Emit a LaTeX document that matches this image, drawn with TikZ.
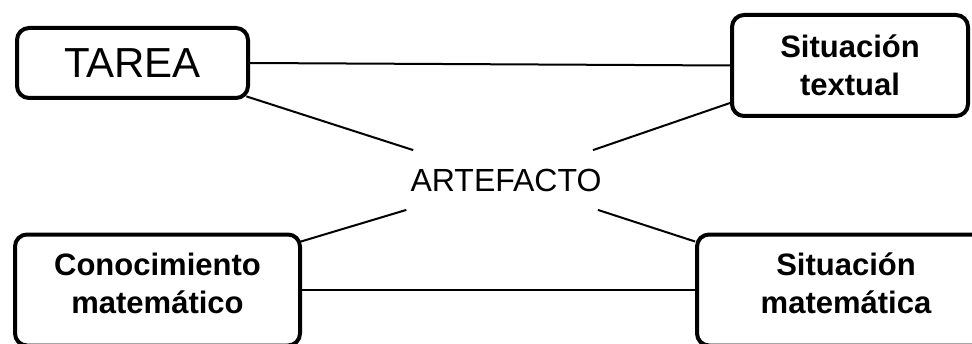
\documentclass[tikz,border=0pt]{standalone}
\usepackage{fontspec}
\setmainfont{Liberation Sans}
\begin{document}
\begin{tikzpicture}[x=0.5pt,y=0.5pt,
    boxB/.style={draw, line width=2pt, rounded corners=6pt, align=center, inner sep=0,
      font=\fontsize{15.5}{19}\selectfont\bfseries},
    linkB/.style={line width=1pt}]

      \useasboundingbox (0,0) rectangle (972,343);
      \clip (0,0) rectangle (972,343);

      % corners
      \node[boxB, minimum width=115.5pt, minimum height=35pt, font=\fontsize{21}{25}\selectfont] (tarea) at (132.5,280) {TAREA};
      \node[boxB, minimum width=118pt, minimum height=50.5pt] (textual) at (850,277.5) {Situación\\textual};
      \node[boxB, minimum width=142.5pt, minimum height=55.5pt, text depth=7pt] (conoc) at (157.5,53) {Conocimiento\\matemático};
      \node[boxB, minimum width=149pt, minimum height=55.5pt, text depth=7pt] (simat) at (846,53) {Situación\\matemática};

      % middle
      \node[inner sep=0, minimum width=110pt, minimum height=29.5pt, font=\fontsize{16}{19}\selectfont] (artefacto) at (506,163) {ARTEFACTO};

      \draw[linkB] (tarea.east) -- (textual.west);
      \draw[linkB] (conoc.east) -- (simat.west);
      \draw[linkB] ([shift={(-1.8pt,1.8pt)}]tarea.south east) -- (artefacto);
      \draw[linkB] ([yshift=7.5pt]textual.south west) -- (artefacto);
      \draw[linkB] ([shift={(-0.5pt,-4.5pt)}]conoc.north east) -- (artefacto);
      \draw[linkB] ([yshift=-4.5pt]simat.north west) -- (artefacto);
    \end{tikzpicture}
\end{document}
